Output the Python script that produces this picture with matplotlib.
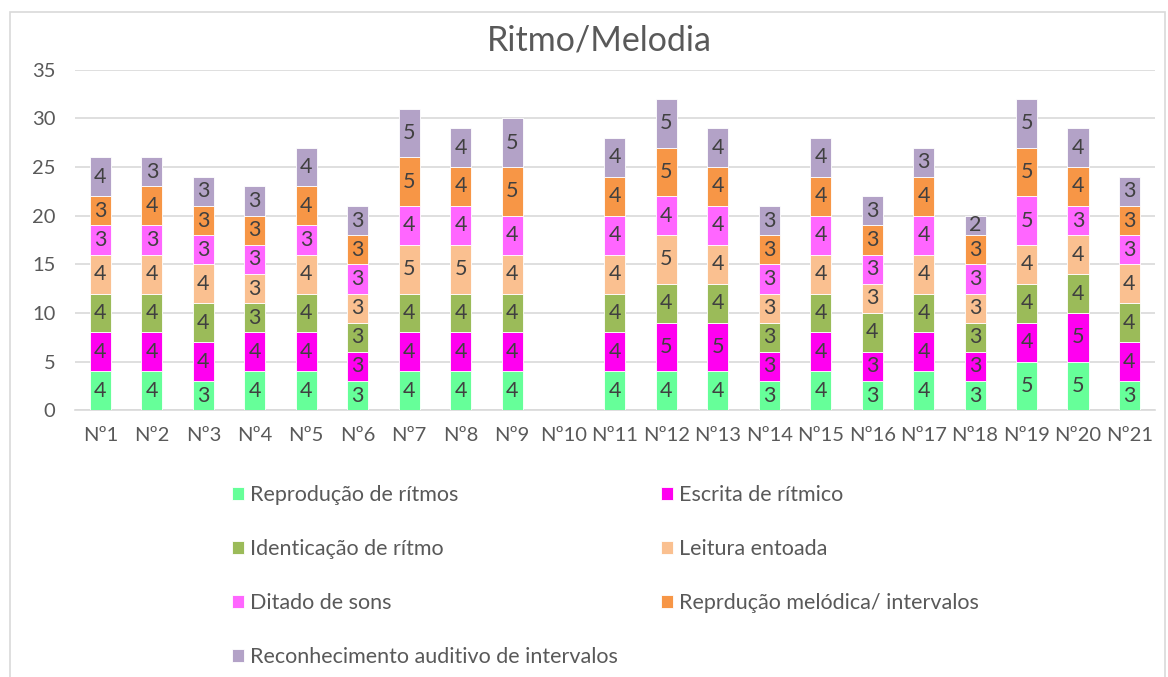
import matplotlib
matplotlib.use("Agg")
import matplotlib.pyplot as plt
import numpy as np
from matplotlib.patches import Rectangle

plt.rcParams['font.family'] = ['Lato', 'DejaVu Sans']

categories = ["Nº1", "Nº2", "Nº3", "Nº4", "Nº5", "Nº6", "Nº7", "Nº8", "Nº9", "Nº10",
              "Nº11", "Nº12", "Nº13", "Nº14", "Nº15", "Nº16", "Nº17", "Nº18", "Nº19", "Nº20", "Nº21"]

reproducao_ritmos = [4, 4, 3, 4, 4, 3, 4, 4, 4, 0, 4, 4, 4, 3, 4, 3, 4, 3, 5, 5, 3]
escrita_ritmico = [4, 4, 4, 4, 4, 3, 4, 4, 4, 0, 4, 5, 5, 3, 4, 3, 4, 3, 4, 5, 4]
identicacao_ritmo = [4, 4, 4, 3, 4, 3, 4, 4, 4, 0, 4, 4, 4, 3, 4, 4, 4, 3, 4, 4, 4]
leitura_entoada = [4, 4, 4, 3, 4, 3, 5, 5, 4, 0, 4, 5, 4, 3, 4, 3, 4, 3, 4, 4, 4]
ditado_sons = [3, 3, 3, 3, 3, 3, 4, 4, 4, 0, 4, 4, 4, 3, 4, 3, 4, 3, 5, 3, 3]
reproducao_melodica = [3, 4, 3, 3, 4, 3, 5, 4, 5, 0, 4, 5, 4, 3, 4, 3, 4, 3, 5, 4, 3]
reconhecimento = [4, 3, 3, 3, 4, 3, 5, 4, 5, 0, 4, 5, 4, 3, 4, 3, 3, 2, 5, 4, 3]

series_names = ["Reprodução de rítmos", "Escrita de rítmico", "Identicação de rítmo",
                "Leitura entoada", "Ditado de sons", "Reprdução melódica/ intervalos",
                "Reconhecimento auditivo de intervalos"]
series_values = [reproducao_ritmos, escrita_ritmico, identicacao_ritmo, leitura_entoada,
                 ditado_sons, reproducao_melodica, reconhecimento]
colors = ["#66FF99", "#FF00F0", "#9BBB59", "#FAC090", "#FF66FF", "#F79646", "#B3A2C7"]

fig = plt.figure(figsize=(11.68, 6.77), dpi=100)
ax = fig.add_axes([0.064, 0.394, 0.925, 0.503])

# outer chart border
fig.patches.append(Rectangle((10 / 1168, -0.01), 1155 / 1168, 1 - 12 / 677 + 0.01,
                             transform=fig.transFigure, fill=False,
                             edgecolor="#D9D9D9", linewidth=1.2))

x = np.arange(len(categories))
bottom = np.zeros(len(categories))
handles = []
for name, vals, col in zip(series_names, series_values, colors):
    vals = np.array(vals, dtype=float)
    bars = ax.bar(x, vals, width=0.41, bottom=bottom, color=col, edgecolor="#FFFFFF",
                  linewidth=0.6, label=name, zorder=3)
    handles.append(bars)
    for xi, b, v in zip(x, bottom, vals):
        if v > 0:
            ax.text(xi, b + v / 2, f"{int(v)}", ha="center", va="center",
                    fontsize=15.5, color="#404040", zorder=4)
    bottom += vals

ax.set_ylim(0, 35)
ax.set_xlim(-0.5, len(categories) - 0.5)
ax.set_yticks(np.arange(0, 36, 5))
ax.yaxis.grid(True, color="#D9D9D9", linewidth=1.2, zorder=0)
ax.set_axisbelow(True)
for s in ["top", "right", "left"]:
    ax.spines[s].set_visible(False)
ax.spines["bottom"].set_color("#D9D9D9")
ax.spines["bottom"].set_linewidth(1.2)
ax.set_xticks(x)
ax.set_xticklabels(categories)
ax.tick_params(axis="both", length=0, labelsize=14.5, colors="#595959", pad=12)
ax.tick_params(axis="y", pad=14)

fig.text(599 / 1168, 1 - 40 / 677, "Ritmo/Melodia", fontsize=24.5, color="#595959",
         ha="center", va="center")

order = [0, 2, 4, 6, 1, 3, 5]
fig.legend(handles=[handles[i] for i in order], labels=[series_names[i] for i in order],
           loc="upper left", bbox_to_anchor=(0.182, 0.312), ncol=2, frameon=False,
           fontsize=15.5, labelcolor="#595959", handlelength=0.55, handleheight=0.6,
           handletextpad=0.3, columnspacing=2.0, labelspacing=1.58)

fig.savefig("out.png", dpi=100)
